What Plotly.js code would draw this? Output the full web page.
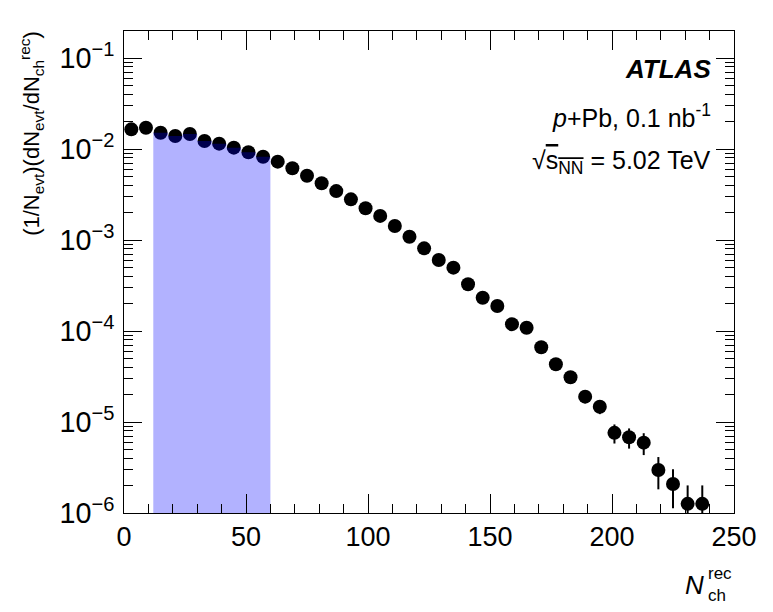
<!DOCTYPE html>
<html>
<head>
<meta charset="utf-8">
<script src="https://cdn.plot.ly/plotly-3.0.1.min.js"></script>
<style>
  html, body { margin: 0; padding: 0; background: #fff; }
  #chart { width: 773px; height: 612px; }
</style>
</head>
<body>
<div id="chart"></div>
<script>
// bin centres of the reconstructed multiplicity (bin width 6)
const nch = [3, 9, 15, 21, 27, 33, 39, 45, 51, 57,
             63, 69, 75, 81, 87, 93, 99, 105, 111, 117,
             123, 129, 135, 141, 147, 153, 159, 165, 171, 177,
             183, 189, 195, 201, 207, 213, 219, 225, 231, 237];

// (1/Nevt)(dNevt/dNch^rec)
const yields = [0.01644, 0.01714, 0.0151, 0.0139, 0.01462, 0.01225, 0.01146, 0.01035, 0.0092, 0.00823,
                0.00726, 0.00614, 0.00509, 0.0042, 0.00345, 0.0028, 0.00223, 0.00184, 0.001426, 0.001087,
                0.00081, 0.000602, 0.000497, 0.000326, 0.000232, 0.000188, 0.000119, 0.0001087, 6.62e-5, 4.31e-5,
                3.1e-5, 1.9e-5, 1.47e-5, 7.6e-6, 6.8e-6, 5.93e-6, 2.97e-6, 2.08e-6, 1.26e-6, 1.26e-6];

// statistical errors (only the tail ones are visible outside the markers)
const errors = [8.5e-5, 8.7e-5, 8.2e-5, 7.8e-5, 8.0e-5, 7.3e-5, 7.1e-5, 6.7e-5, 6.4e-5, 6.0e-5,
                5.7e-5, 5.2e-5, 4.7e-5, 4.3e-5, 3.9e-5, 3.5e-5, 3.1e-5, 2.8e-5, 2.5e-5, 2.2e-5,
                1.9e-5, 1.6e-5, 1.5e-5, 1.2e-5, 1.0e-5, 9.1e-6, 7.2e-6, 6.9e-6, 5.4e-6, 4.4e-6,
                3.7e-6, 2.9e-6, 2.5e-6, 1.8e-6, 1.7e-6, 1.6e-6, 1.15e-6, 0.95e-6, 0.75e-6, 0.75e-6];

// selected multiplicity window (shaded)
const binWidth = 6;
const shadeLow = 12;
const shadeHigh = 60;
const yMin = 1e-6;

// step outline of the shaded histogram
const shadeX = [shadeLow];
const shadeY = [yMin / 10];
nch.forEach((c, i) => {
    const lo = c - binWidth / 2, hi = c + binWidth / 2;
    if (lo >= shadeLow && hi <= shadeHigh) {
        shadeX.push(lo, hi);
        shadeY.push(yields[i], yields[i]);
    }
});
shadeX.push(shadeHigh);
shadeY.push(yMin / 10);

const font = "Liberation Sans, Arial, Helvetica, sans-serif";

const points = {
    type: "scatter",
    mode: "markers",
    x: nch,
    y: yields,
    marker: { color: "#000", size: 14 },
    error_y: { type: "data", array: errors, color: "#000", thickness: 2, width: 0 },
    hoverinfo: "x+y",
    showlegend: false
};

const shade = {
    type: "scatter",
    mode: "lines",
    x: shadeX,
    y: shadeY,
    fill: "toself",
    fillcolor: "rgba(0,0,255,0.3)",
    line: { width: 0 },
    hoverinfo: "skip",
    showlegend: false
};

const axisCommon = {
    showline: true,
    linecolor: "#000",
    linewidth: 1,
    mirror: "allticks",
    ticks: "inside",
    tickcolor: "#000",
    showgrid: false,
    zeroline: false
};

const layout = {
    width: 773,
    height: 612,
    margin: { l: 123.5, r: 39, t: 31, b: 99 },
    paper_bgcolor: "#fff",
    plot_bgcolor: "#fff",
    font: { family: font, color: "#000" },
    xaxis: Object.assign({}, axisCommon, {
        range: [0, 250],
        dtick: 50,
        tick0: 0,
        ticklen: 19,
        tickfont: { family: font, size: 27, color: "#000" },
        minor: { dtick: 10, ticks: "inside", ticklen: 9, tickcolor: "#000", showgrid: false }
    }),
    yaxis: Object.assign({}, axisCommon, {
        type: "log",
        range: [-6, -0.703],
        dtick: 1,
        ticklen: 18,
        ticklabelstandoff: 4,
        exponentformat: "power",
        showexponent: "all",
        tickfont: { family: font, size: 23, color: "#000" },
        minor: { dtick: "D1", ticks: "inside", ticklen: 9, tickcolor: "#000", showgrid: false }
    }),
    annotations: [
        {
            xref: "paper", yref: "paper", x: 0.966, y: 0.921, xanchor: "right", yanchor: "middle",
            text: "<b><i>ATLAS</i></b>", showarrow: false,
            font: { family: font, size: 26, color: "#000" }
        },
        {
            xref: "paper", yref: "paper", x: 0.966, y: 0.823, xanchor: "right", yanchor: "middle",
            text: "<i>p</i>+Pb, 0.1 nb<sup>-1</sup>", showarrow: false,
            font: { family: font, size: 25, color: "#000" }
        },
        {
            xref: "paper", yref: "paper", x: 0.966, y: 0.728, xanchor: "right", yanchor: "middle",
            text: "√<span style='text-decoration:overline'>s<sub>NN</sub></span> = 5.02 TeV", showarrow: false,
            font: { family: font, size: 25, color: "#000" }
        },
        {
            xref: "paper", yref: "paper", x: -0.152, y: 1.004, xanchor: "center", yanchor: "top",
            textangle: -90,
            text: "(1/N<sub>evt</sub>)(dN<sub>evt</sub>/dN<sub>ch</sub><sup>rec</sup>)", showarrow: false,
            font: { family: font, size: 22, color: "#000" }
        },
        {
            xref: "paper", yref: "paper", x: 1, y: -0.15, xanchor: "right", yanchor: "middle",
            xshift: -28,
            text: "<i>N</i>", showarrow: false,
            font: { family: font, size: 26, color: "#000" }
        },
        {
            xref: "paper", yref: "paper", x: 1, y: -0.148, xanchor: "right", yanchor: "middle",
            align: "left",
            text: "rec<br>ch", showarrow: false,
            font: { family: font, size: 17, color: "#000" }
        }
    ]
};

Plotly.newPlot("chart", [points, shade], layout, { displayModeBar: false, staticPlot: true });
</script>
</body>
</html>
